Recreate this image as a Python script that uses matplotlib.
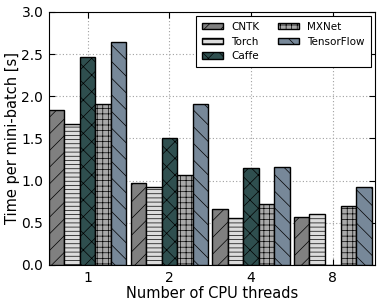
import numpy as np
import matplotlib.pyplot as plt

threads = ["1", "2", "4", "8"]
frameworks = ["CNTK", "Torch", "Caffe", "MXNet", "TensorFlow"]
cntk = [1.84, 0.97, 0.66, 0.57]
torch = [1.67, 0.92, 0.56, 0.61]
caffe = [2.47, 1.50, 1.15, 0.0]
mxnet = [1.91, 1.07, 0.72, 0.70]
tensorflow = [2.64, 1.91, 1.16, 0.92]

series = [cntk, torch, caffe, mxnet, tensorflow]
colors = ["#808080", "#dcdcdc", "#2f4f4f", "#a9a9a9", "#778899"]
hatches = ["//", "----", "xx", "+++", "\\\\"]

plt.rcParams["hatch.linewidth"] = 0.5
fig = plt.figure(figsize=(3.82, 3.06), dpi=100)
ax = fig.add_axes([0.128, 0.134, 0.853, 0.827])

x = np.arange(1, len(threads) + 1)
w = 0.19
for i, (vals, c, h, name) in enumerate(zip(series, colors, hatches, frameworks)):
    ax.bar(x + (i - 2) * w, vals, w, color=c, hatch=h, edgecolor="black",
           linewidth=1, label=name, zorder=3)

ax.set_xlim(0.525, 4.514)
ax.set_ylim(0, 3.0)
ax.set_xticks(x)
ax.set_xticklabels(threads)
ax.set_yticks(np.arange(0, 3.01, 0.5))
ax.set_yticklabels(["%.1f" % v for v in np.arange(0, 3.01, 0.5)])
ax.tick_params(direction="in", top=True, right=True, labelsize=10, length=4, pad=4)
ax.grid(True, linestyle=(0, (1, 2)), color="#a0a0a0", linewidth=0.8, zorder=0)
ax.set_axisbelow(True)
ax.set_xlabel("Number of CPU threads", fontsize=10.5, labelpad=1)
ax.set_ylabel("Time per mini-batch [s]", fontsize=10.5, labelpad=1)

leg = ax.legend(ncol=2, fontsize=7.5, loc="upper right", fancybox=False,
                edgecolor="black", framealpha=1, handlelength=2.0,
                handleheight=0.6, labelspacing=0.45, columnspacing=1.8,
                borderaxespad=0.35, borderpad=0.6)
leg.get_frame().set_linewidth(0.8)

fig.savefig("out.png", dpi=100)
